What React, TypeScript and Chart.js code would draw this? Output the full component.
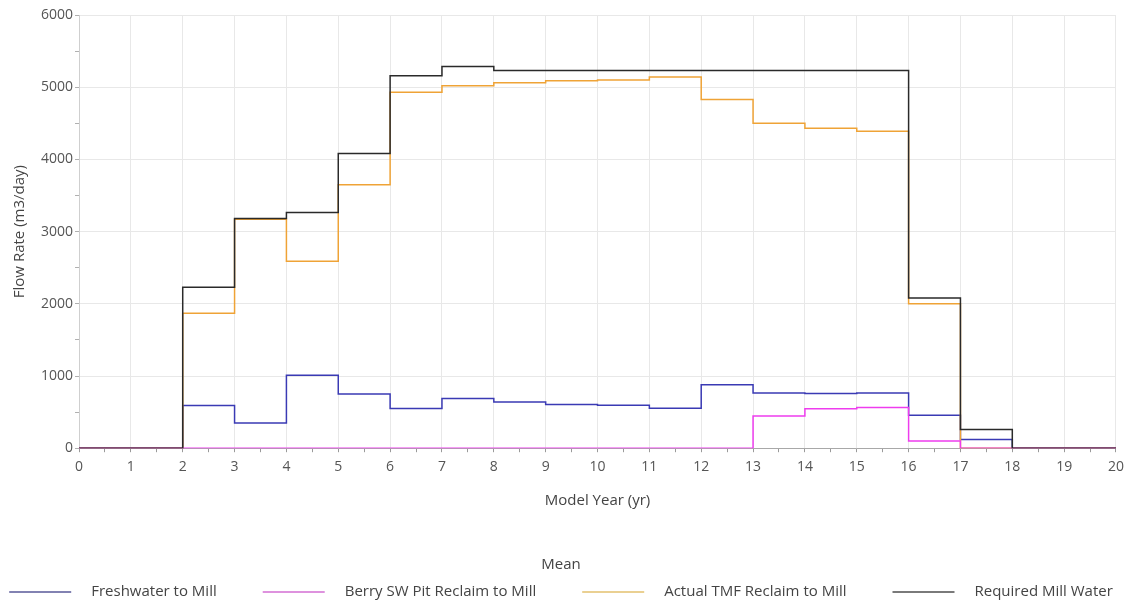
import React, { useEffect, useRef } from "react";
import { Chart, registerables } from "chart.js";

Chart.register(...registerables);

// Model years 0..20; each value holds for the year interval [i, i+1)
const years = [0, 1, 2, 3, 4, 5, 6, 7, 8, 9, 10, 11, 12, 13, 14, 15, 16, 17, 18, 19, 20];
const freshwater = [0, 0, 590, 350, 1010, 750, 550, 690, 640, 605, 595, 555, 880, 765, 758, 765, 455, 120, 0, 0, 0];
const berryReclaim = [0, 0, 0, 0, 0, 0, 0, 0, 0, 0, 0, 0, 0, 445, 545, 565, 100, 0, 0, 0, 0];
const tmfReclaim = [0, 0, 1870, 3170, 2590, 3650, 4930, 5020, 5060, 5090, 5100, 5140, 4830, 4500, 4430, 4390, 2000, 0, 0, 0, 0];
const requiredWater = [0, 0, 2230, 3180, 3265, 4080, 5160, 5285, 5230, 5230, 5230, 5230, 5230, 5230, 5230, 5230, 2080, 260, 0, 0, 0];

const seriesNames = ["Freshwater to Mill", "Berry SW Pit Reclaim to Mill", "Actual TMF Reclaim to Mill", "Required Mill Water"];
const seriesValues = [freshwater, berryReclaim, tmfReclaim, requiredWater];
const lineColors = ["#3a3ab4", "#ee3cee", "#efa336", "#2a2a2a"];
const legendColors = ["#8282b2", "#de92de", "#ead092", "#7a7a7a"];
const drawOrder = [4, 2, 3, 1];
const legendTitle = "Mean";

const FONT = "'Open Sans', 'Noto Sans', sans-serif";
const TEXT_COLOR = "#444444";

// Legend drawn under the axes: a title line, then one row of line swatches with labels
const meanLegend = {
  id: "meanLegend",
  afterDraw(chart: any) {
    const ctx: CanvasRenderingContext2D = chart.ctx;
    const swatch = 62;
    const gap = 20;
    const spacing = 46;
    const rowY = 592;
    const titleY = 565;
    ctx.save();
    ctx.font = `15px ${FONT}`;
    ctx.textBaseline = "middle";
    const widths = seriesNames.map((n) => ctx.measureText(n).width);
    const total =
      widths.reduce((a, b) => a + b, 0) + seriesNames.length * (swatch + gap) + (seriesNames.length - 1) * spacing;
    let x = (chart.width - total) / 2 - 4;
    ctx.fillStyle = TEXT_COLOR;
    ctx.textAlign = "center";
    ctx.fillText(legendTitle, x + total / 2, titleY);
    ctx.textAlign = "left";
    seriesNames.forEach((name, i) => {
      ctx.strokeStyle = legendColors[i];
      ctx.lineWidth = 2;
      ctx.beginPath();
      ctx.moveTo(x, rowY);
      ctx.lineTo(x + swatch, rowY);
      ctx.stroke();
      ctx.fillStyle = TEXT_COLOR;
      ctx.fillText(name, x + swatch + gap, rowY);
      x += swatch + gap + widths[i] + spacing;
    });
    ctx.restore();
  },
};

export default function App() {
  const ref = useRef<HTMLCanvasElement | null>(null);

  useEffect(() => {
    document.body.style.margin = "0";
    const chart = new Chart(ref.current!, {
      type: "line",
      data: {
        datasets: seriesNames.map((name, i) => ({
          label: name,
          data: years.map((y, k) => ({ x: y, y: seriesValues[i][k] })),
          borderColor: lineColors[i],
          backgroundColor: lineColors[i],
          borderWidth: 1.5,
          pointRadius: 0,
          stepped: "before" as const,
          fill: false,
          order: drawOrder[i],
        })),
      },
      options: {
        animation: false,
        responsive: false,
        maintainAspectRatio: false,
        layout: { padding: { left: 11, right: 8, top: 15, bottom: 92 } },
        scales: {
          x: {
            type: "linear",
            min: 0,
            max: 20,
            grid: {
              color: (ctx: any) => (ctx.tick && Number.isInteger(ctx.tick.value) ? "#e8e8e8" : "rgba(0,0,0,0)"),
              tickColor: "#9a9a9a",
              tickLength: 4,
            },
            border: { color: "#a8a8a8" },
            ticks: {
              stepSize: 0.5,
              autoSkip: false,
              maxRotation: 0,
              padding: 6,
              color: "#555555",
              font: { family: FONT, size: 14 },
              callback: (v: any) => (Number.isInteger(v) ? String(v) : ""),
            },
            title: {
              display: true,
              text: "Model Year (yr)",
              color: TEXT_COLOR,
              font: { family: FONT, size: 15 },
              padding: { top: 11, bottom: 0 },
            },
          },
          y: {
            min: 0,
            max: 6000,
            grid: {
              color: (ctx: any) => (ctx.tick && ctx.tick.value % 1000 === 0 ? "#e8e8e8" : "rgba(0,0,0,0)"),
              tickColor: "#b0b0b0",
              tickLength: 4,
            },
            border: { color: "#cfcfcf" },
            ticks: {
              stepSize: 500,
              autoSkip: false,
              padding: 2,
              color: "#555555",
              font: { family: FONT, size: 14 },
              callback: (v: any) => (v % 1000 === 0 ? String(v) : ""),
            },
            title: {
              display: true,
              text: "Flow Rate (m3/day)",
              color: TEXT_COLOR,
              font: { family: FONT, size: 15 },
              padding: { top: 0, bottom: 10 },
            },
          },
        },
        plugins: {
          tooltip: { enabled: false },
          legend: { display: false },
        },
      },
      plugins: [meanLegend],
    });
    return () => chart.destroy();
  }, []);

  return (
    <div style={{ width: 1130, height: 602, background: "#ffffff" }}>
      <canvas ref={ref} width={1130} height={602} />
    </div>
  );
}
